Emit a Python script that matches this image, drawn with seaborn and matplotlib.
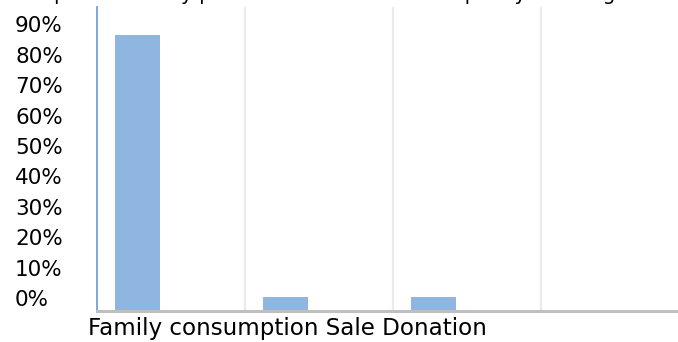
import matplotlib
matplotlib.use("Agg")
import matplotlib.pyplot as plt
import seaborn as sns
import pandas as pd
from matplotlib.ticker import FixedLocator
from matplotlib.transforms import ScaledTranslation

# ---- data ----
categories = ["Family consumption", "Sale", "Donation"]
shares = [0.908, 0.046, 0.046]
y_ticks = [0.0, 0.1, 0.2, 0.3, 0.4, 0.5, 0.6, 0.7, 0.8, 0.9]
y_tick_labels = ["0%", "10%", "20%", "30%", "40%", "50%", "60%", "70%", "80%", "90%"]
title_text = "production by producers in the total sample by the stage of the harvest"

# ---- style ----
sns.set_theme(style="white")
plt.rcParams["font.family"] = ["DejaVu Sans"]
FS = 15.5
BAR_COLOR = "#8EB6E1"

W, H = 678, 342
fig = plt.figure(figsize=(W / 100, H / 100), dpi=100)
ax = fig.add_axes([97 / W, 31 / H, 592 / W, 304 / H])

df = pd.DataFrame({"category": categories, "share": shares})
sns.barplot(data=df, x="category", y="share", color=BAR_COLOR, width=0.304,
            saturation=1, ax=ax, errorbar=None, linewidth=0, edgecolor="none")

# category slots (bars sit in the left part of each slot)
shift = 0.2264
ax.set_xlim(-0.5 + shift, len(categories) + 0.5 + shift)
ax.set_ylim(0, 1.0)
ax.xaxis.set_minor_locator(FixedLocator([i + 0.5 + shift for i in range(len(categories) + 1)]))
ax.grid(False)
ax.grid(which="minor", axis="x", color="#EBEBEB", linewidth=1.6)
ax.set_axisbelow(True)

ax.set_yticks(y_ticks)
ax.set_yticklabels(y_tick_labels)
ax.tick_params(axis="y", length=0, pad=59, labelsize=FS, labelcolor="black")
ax.tick_params(axis="x", which="both", length=0, labelbottom=False)
offset = ScaledTranslation(0, 13 / 100, fig.dpi_scale_trans)
for lab in ax.get_yticklabels():
    lab.set_transform(lab.get_transform() + offset)
    lab.set_horizontalalignment("left")

ax.set_xlabel("")
ax.set_ylabel("")

for s in ["top", "right"]:
    ax.spines[s].set_visible(False)
ax.spines["left"].set_color("#6FA3DA")
ax.spines["left"].set_linewidth(1.3)
ax.spines["bottom"].set_color("#BFBFBF")
ax.spines["bottom"].set_linewidth(2.2)

# combined category text below the axis
fig.text(88 / W, 7 / H, " ".join(categories), ha="left", va="baseline",
         fontsize=16.6, color="black")

# title (mostly above the visible canvas)
fig.text(53.7 / W, 1 - 0.5 / H, title_text, ha="left", va="baseline",
         fontsize=14.4, color="black")

fig.savefig("out.png", dpi=100)
